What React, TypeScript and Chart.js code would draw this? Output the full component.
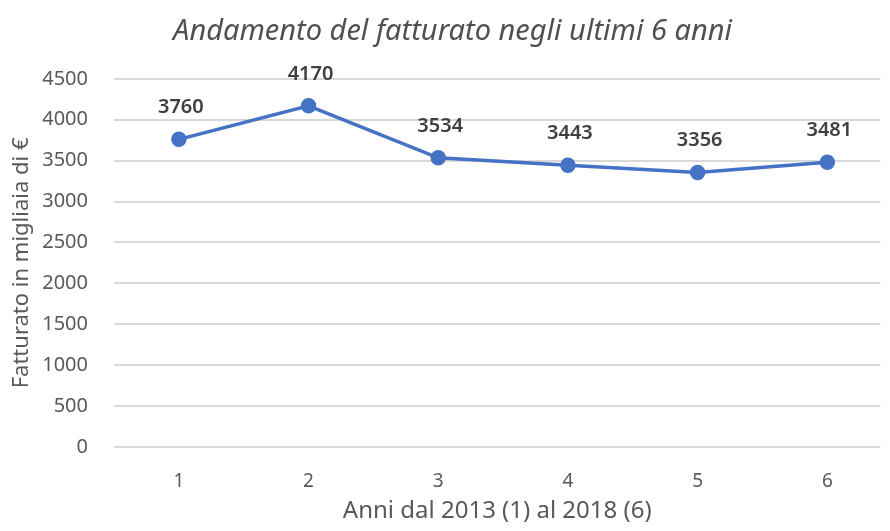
import React, { useEffect, useRef } from "react";
import { Chart, registerables } from "chart.js";

Chart.register(...registerables);

const years = [1, 2, 3, 4, 5, 6];
const revenue = [3760, 4170, 3534, 3443, 3356, 3481];
const yTicks = [0, 500, 1000, 1500, 2000, 2500, 3000, 3500, 4000, 4500];

const titleText = "Andamento del fatturato negli ultimi 6 anni";
const yTitle = "Fatturato in migliaia di €";
const xTitle = "Anni dal 2013 (1) al 2018 (6)";

const FONT = "'Noto Sans', 'Open Sans', sans-serif";

const labelPlugin = {
  id: "valueLabels",
  afterDatasetsDraw(chart: any) {
    const ctx = chart.ctx;
    const meta = chart.getDatasetMeta(0);
    ctx.save();
    ctx.font = `600 20px ${FONT}`;
    ctx.fillStyle = "#404040";
    ctx.textAlign = "center";
    ctx.textBaseline = "middle";
    meta.data.forEach((pt: any, i: number) => {
      ctx.fillText(String(revenue[i]), pt.x + 2, pt.y - 32);
    });
    ctx.restore();
  },
};

export default function App() {
  const ref = useRef<HTMLCanvasElement>(null);
  useEffect(() => {
    if (!ref.current) return;
    const chart = new Chart(ref.current, {
      type: "line",
      data: {
        datasets: [
          {
            data: years.map((x, i) => ({ x, y: revenue[i] })),
            borderColor: "#4472C4",
            backgroundColor: "#4472C4",
            borderWidth: 3.5,
            pointRadius: 6,
            pointBackgroundColor: "#4472C4",
            pointBorderColor: "#4472C4",
            tension: 0,
          },
        ],
      },
      options: {
        animation: false,
        responsive: true,
        maintainAspectRatio: false,
        layout: { padding: { left: 0, right: 0, top: 0, bottom: 0 } },
        plugins: {
          legend: { display: false },
          tooltip: { enabled: false },
          title: {
            display: true,
            text: "  " + titleText,
            color: "#505050",
            font: { family: FONT, size: 29, style: "italic", weight: "normal" },
            padding: { top: 14, bottom: 30 },
          },
        },
        scales: {
          x: {
            type: "linear",
            min: 0.5,
            max: 6.41,
            grid: { display: false, drawTicks: false },
            border: { display: false },
            ticks: {
              stepSize: 1,
              includeBounds: false,
              color: "#595959",
              font: { family: FONT, size: 19 },
              padding: 23,
              callback: (v: any) => (years.includes(v) ? String(v) : ""),
            },
            title: {
              display: true,
              text: xTitle,
              color: "#595959",
              font: { family: FONT, size: 24 },
              padding: { top: 8, bottom: 5 },
            },
            afterFit: (s: any) => {
              s.height = 84;
            },
          },
          y: {
            min: 0,
            max: 4500,
            afterBuildTicks: (s: any) => {
              s.ticks = yTicks.map((v) => ({ value: v }));
            },
            grid: { color: "#D9D9D9", lineWidth: 2, drawTicks: false },
            border: { display: false },
            ticks: {
              color: "#595959",
              font: { family: FONT, size: 20 },
              padding: 26,
              callback: (v: any) => String(v),
            },
            title: {
              display: true,
              text: yTitle,
              color: "#595959",
              font: { family: FONT, size: 22 },
              padding: { top: 9, bottom: 8 },
            },
            afterFit: (s: any) => {
              s.width = 114;
            },
          },
        },
      },
      plugins: [labelPlugin],
    });
    return () => chart.destroy();
  }, []);
  return (
    <div style={{ margin: "-8px", width: 890, height: 531, overflow: "hidden", background: "#fff" }}>
      <canvas ref={ref} />
    </div>
  );
}
